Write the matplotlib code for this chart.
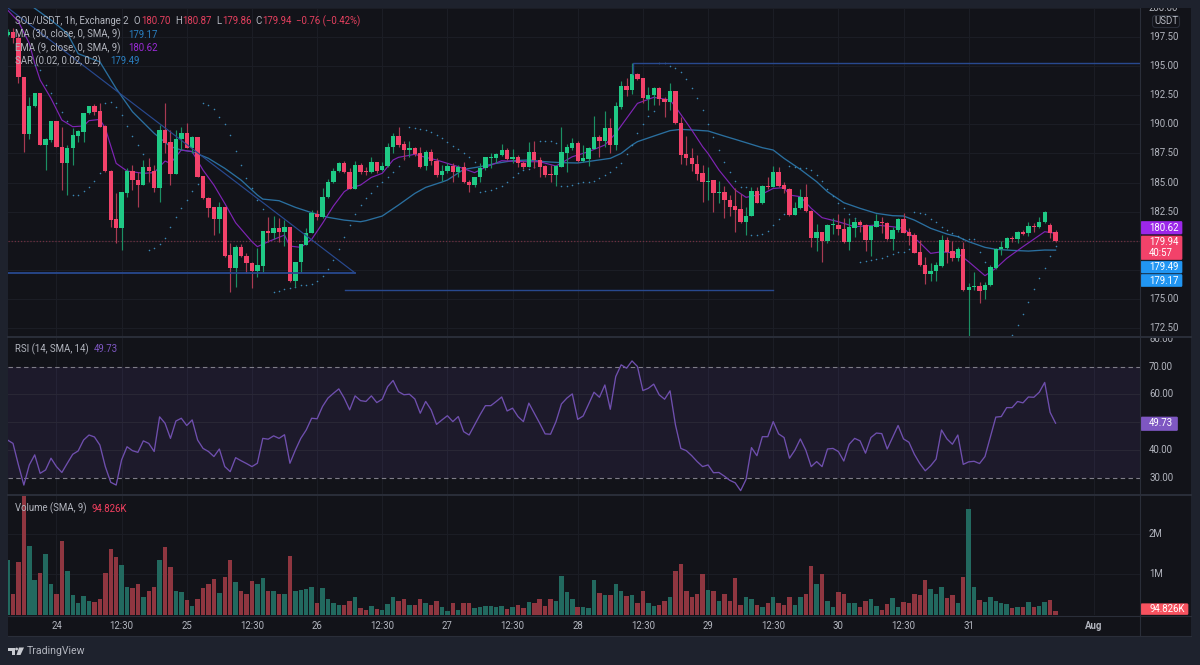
import matplotlib
matplotlib.use("Agg")
import matplotlib.pyplot as plt
import numpy as np
from matplotlib.patches import Rectangle, FancyBboxPatch, Polygon, Circle

plt.rcParams['font.family'] = ['Roboto', 'DejaVu Sans']

opens = [197.71,198.0,197.43,194.12,189.18,191.59,192.74,188.2,188.66,190.27,
188.03,186.71,187.97,189.03,189.38,190.96,191.59,191.13,189.87,185.99,
181.82,181.05,184.12,185.99,185.21,184.81,186.33,185.96,184.55,189.52,
188.46,185.73,188.72,189.24,187.94,188.89,185.56,183.69,182.86,181.82,
182.86,178.72,177.63,179.47,178.69,178.06,177.4,177.8,180.84,180.67,
181.08,180.73,181.16,176.51,178.14,179.64,180.61,182.25,182.05,183.72,
185.04,185.96,186.71,185.93,184.47,186.51,185.99,185.93,186.74,186.05,
186.42,188.03,189.03,188.32,187.8,187.94,187.57,186.42,187.63,186.88,
185.62,185.96,186.45,185.87,186.33,185.07,184.78,185.44,186.25,187.08,
187.08,187.39,187.83,186.99,187.22,186.71,186.33,187.66,186.94,186.39,
185.73,185.67,186.33,187.57,188.0,188.4,186.88,187.05,187.89,188.92,
188.55,189.7,188.2,191.53,193.32,192.97,194.35,194.0,192.22,192.51,
193.14,192.22,191.97,192.86,190.13,187.45,187.11,186.62,185.79,185.04,
185.18,184.09,184.18,183.52,182.97,182.68,181.59,182.11,184.24,183.23,
184.72,184.64,185.87,184.78,184.44,182.2,182.77,183.75,182.57,180.24,
180.7,179.95,181.33,181.36,180.96,179.9,181.1,181.59,181.36,180.07,
181.19,181.62,181.53,180.1,180.87,181.88,180.73,180.44,179.0,177.91,
177.14,177.37,177.8,180.01,179.09,178.52,179.26,175.73,176.02,176.08,
175.73,176.13,177.63,179.24,179.32,180.21,180.16,180.76,180.62,181.25,
181.13,181.56,181.33,180.70]

closes = [198.0,197.43,194.12,189.18,191.59,192.74,188.2,188.72,190.27,188.03,
186.71,188.0,189.09,189.44,191.02,191.56,191.1,189.81,185.99,181.76,
181.05,184.15,186.02,185.21,184.78,186.33,185.96,184.52,189.52,188.43,
185.73,188.72,189.24,187.94,188.89,185.5,183.63,182.83,181.82,182.86,
178.66,177.63,179.47,178.66,178.03,177.4,177.86,180.84,180.67,181.08,
180.7,181.13,176.51,178.14,179.67,180.64,182.34,182.02,183.75,185.07,
186.02,186.71,185.87,184.47,186.51,185.93,185.87,186.74,186.02,186.42,
188.03,189.03,188.23,187.8,187.94,187.45,186.36,187.63,186.85,185.62,
186.02,186.42,185.93,186.33,185.01,184.81,185.44,186.25,187.17,187.17,
187.45,187.83,187.02,187.22,186.65,186.31,187.66,186.94,186.33,185.64,
185.62,186.39,187.6,188.06,188.4,186.88,187.08,187.94,188.92,188.55,
189.7,188.2,191.59,193.32,192.97,194.35,193.95,192.25,192.54,193.14,
192.2,191.97,192.86,190.1,187.37,187.08,186.56,185.73,185.04,185.16,
184.06,184.18,183.49,182.91,182.63,181.59,182.14,184.24,183.23,184.72,
184.64,185.87,184.72,184.44,182.2,182.8,183.75,182.54,180.24,180.7,
179.95,181.36,181.39,180.96,179.87,181.16,181.59,181.31,180.07,181.25,
181.65,181.48,180.1,180.9,181.88,180.67,180.41,178.95,177.86,177.11,
177.4,177.86,180.01,179.03,178.49,179.26,175.73,176.02,176.08,175.67,
176.19,177.68,179.29,179.41,180.21,180.1,180.76,180.59,181.22,181.16,
181.59,182.43,180.62,179.94]

highs = [198.2,198.29,197.86,194.12,192.4,192.74,192.74,188.8,190.27,190.27,
189.81,188.23,189.67,189.52,191.02,191.59,191.77,191.82,189.95,186.07,
184.06,184.21,186.28,186.51,185.93,186.94,187.08,186.51,189.95,191.88,
189.52,189.52,189.81,190.1,189.0,188.95,185.56,183.77,182.91,183.34,
182.86,179.75,179.61,179.7,178.95,178.17,179.32,180.84,182.05,182.11,
181.91,181.76,181.19,178.17,179.67,181.05,182.63,182.63,184.5,185.27,
186.22,186.79,186.82,186.22,186.88,186.65,186.36,187.17,186.79,186.79,
188.37,189.24,189.81,188.6,188.6,188.09,188.09,187.8,187.91,187.08,
186.51,186.65,186.65,186.51,186.79,185.21,185.5,186.65,187.22,187.57,
187.51,188.29,187.94,187.86,187.37,186.88,188.52,188.6,187.22,186.51,
186.51,186.51,189.75,188.32,188.8,188.6,188.23,188.03,190.76,189.09,
191.19,190.53,191.97,193.78,193.98,195.33,194.41,194.0,193.2,193.26,
193.26,192.34,193.55,192.91,190.67,189.0,187.94,187.37,186.51,186.36,
185.21,185.16,184.7,183.92,184.49,184.01,182.91,184.64,184.64,184.78,
185.44,186.42,186.36,185.07,184.49,183.35,184.41,184.87,182.63,181.42,
180.76,181.42,181.97,182.28,181.91,181.91,181.91,181.76,181.42,181.33,
182.28,182.05,181.62,181.19,181.91,182.34,181.05,180.67,180.04,178.6,
178.03,178.17,180.47,180.33,179.98,179.47,179.9,176.31,177.31,176.45,
176.45,177.89,179.32,179.98,180.33,180.39,180.85,180.9,181.62,181.48,
182.05,182.57,181.48,180.87]

lows = [197.6,196.99,193.55,187.66,188.72,191.53,188.2,186.07,188.52,188.03,
184.35,183.92,186.51,188.52,188.52,190.9,190.82,189.75,185.93,181.19,
179.81,179.18,183.77,184.35,182.91,184.78,185.07,184.21,183.34,187.51,
184.78,185.73,187.8,187.94,187.51,185.5,183.55,182.05,180.47,180.67,
178.6,175.53,175.96,178.6,177.22,175.87,176.88,177.31,179.9,180.1,
179.9,179.52,176.45,176.02,177.31,179.61,180.61,181.76,181.91,183.69,
184.98,185.93,185.79,184.41,184.41,185.73,185.64,185.79,185.85,186.02,
186.36,187.51,188.09,186.94,187.22,187.28,186.22,186.08,186.51,185.5,
185.16,185.85,185.07,185.5,184.93,184.21,184.58,185.07,186.08,186.22,
186.65,187.28,186.94,186.65,186.36,186.13,186.31,186.22,185.44,185.5,
185.07,184.72,186.31,185.93,187.8,186.79,186.79,186.42,187.86,187.17,
188.09,187.57,187.8,191.3,192.45,192.63,193.83,191.82,191.25,191.68,
191.68,190.62,191.25,190.04,186.59,186.51,186.02,185.21,183.35,183.49,
182.48,183.2,181.97,182.11,180.76,181.53,180.47,182.11,183.2,183.14,
184.41,184.58,184.64,184.06,182.14,182.17,182.68,182.48,179.47,179.12,
178.17,179.75,180.56,180.47,179.81,179.18,180.27,180.76,179.12,178.66,
181.13,180.62,180.04,179.18,180.76,180.62,179.61,178.89,177.8,176.25,
176.54,176.54,177.74,178.09,178.26,178.23,175.67,171.76,175.73,174.58,
174.93,176.08,177.57,178.75,179.26,179.9,179.75,180.47,180.39,180.76,
181.07,181.48,180.18,179.86]

volume_m = [1.34,0.52,1.29,3.0,1.69,0.85,1.04,1.49,0.77,0.51,
1.81,1.09,0.49,0.30,0.46,0.34,0.31,0.39,1.02,1.63,
1.42,1.22,0.70,0.66,0.77,0.44,0.58,0.68,1.36,1.66,
1.19,0.58,0.56,0.36,0.22,0.40,0.66,0.75,0.89,0.54,
0.93,1.36,0.82,0.58,0.51,0.84,0.77,0.92,0.58,0.58,
0.51,0.52,1.45,0.58,0.61,0.65,0.68,0.29,0.66,0.39,
0.30,0.24,0.25,0.34,0.43,0.17,0.13,0.22,0.14,0.13,
0.28,0.44,0.35,0.39,0.24,0.24,0.40,0.29,0.24,0.35,
0.20,0.10,0.30,0.13,0.30,0.30,0.16,0.20,0.22,0.22,
0.20,0.22,0.14,0.19,0.24,0.17,0.32,0.30,0.39,0.22,
0.39,0.34,0.96,0.57,0.39,0.19,0.20,0.17,0.87,0.53,
0.48,0.48,0.75,0.58,0.46,0.49,0.29,0.60,0.30,0.22,
0.24,0.35,0.43,1.07,1.26,0.58,0.44,0.51,1.01,0.61,
0.58,0.35,0.51,0.35,0.90,0.25,0.44,0.39,0.25,0.20,
0.29,0.43,0.29,0.25,0.44,0.24,0.44,0.52,1.21,0.75,
1.01,0.35,0.20,0.57,0.52,0.30,0.30,0.20,0.35,0.39,
0.22,0.13,0.27,0.41,0.20,0.32,0.30,0.51,0.48,0.87,
0.63,0.52,0.68,0.41,0.49,0.29,0.93,2.61,0.68,0.38,
0.32,0.43,0.35,0.30,0.27,0.17,0.20,0.20,0.32,0.20,
0.22,0.32,0.38,0.095]

rsi_values = [43.7,42.5,34.8,27.6,34.8,38.4,31.8,33.0,37.2,34.2,
32.1,35.4,38.6,39.8,43.7,45.5,44.8,41.9,34.2,28.6,
27.6,36.6,41.3,39.9,39.3,43.4,42.5,39.6,52.0,49.7,
44.3,50.5,51.5,48.9,50.9,43.7,40.7,39.6,37.8,40.5,
34.2,32.4,37.4,36.3,35.3,34.2,35.4,44.3,44.0,45.2,
44.3,45.6,35.4,40.1,44.3,47.3,51.5,51.3,55.7,58.7,
60.4,62.0,58.7,54.5,59.5,57.8,57.5,59.5,57.1,58.3,
62.8,65.0,61.0,59.9,60.1,58.4,53.3,57.5,54.5,49.3,
50.9,52.4,50.3,52.1,46.7,45.5,49.1,52.7,56.0,56.0,
57.5,59.1,54.1,55.1,52.1,50.3,56.9,53.3,49.7,45.9,
45.8,50.3,56.6,58.7,60.2,51.1,52.3,56.5,60.8,59.0,
63.4,54.7,66.4,70.6,69.4,72.0,70.0,61.4,62.2,63.7,
59.9,58.3,61.3,49.1,40.7,39.9,38.1,36.0,34.2,34.8,
32.0,32.1,30.8,29.3,28.4,25.6,29.6,41.0,38.1,44.9,
44.9,50.3,45.9,44.6,37.2,40.1,44.1,40.1,34.2,36.0,
34.2,40.5,40.7,39.6,36.2,42.2,44.3,43.4,39.0,44.6,
46.2,46.0,40.5,44.7,48.9,44.1,42.9,38.6,35.3,32.7,
34.5,36.9,47.3,44.1,42.2,45.5,35.0,35.9,36.1,35.3,
37.8,44.9,51.9,52.1,55.3,55.3,57.5,57.0,59.1,59.0,
60.8,64.3,53.6,49.73]

ma_idx = [0,5,8,11,13,17,20,23,27,30,32,34,37,40,43,46,47,50,53,56,59,62,65,66,69,72,75,77,80,81,84,87,90,93,96,99,
102,105,108,111,113,115,116,119,122,124,127,129,132,134,137,139,141,143,146,149,151,154,157,160,163,165,167,170,173,175,177,180,182,185,188,191,193]
ma_values = [202.0,200.01,199.0,197.86,196.1,195.4,193.1,191.1,189.24,188.09,187.8,187.66,187.08,186.22,185.21,183.92,183.57,183.43,182.86,182.4,182.0,181.76,181.62,181.71,182.11,183.06,184.06,184.58,185.04,185.21,186.13,186.36,186.65,186.88,186.94,186.79,
186.71,186.68,186.88,187.08,187.51,188.23,188.52,189.0,189.47,189.58,189.5,189.44,189.0,188.72,188.29,188.0,187.8,187.08,186.13,185.07,184.2,183.26,182.77,182.34,182.14,182.11,181.76,181.05,180.56,180.33,179.9,179.41,179.24,179.15,179.09,179.18,179.17]

ema_idx = [0,2,4,5,6,8,10,12,14,15,17,18,20,22,25,27,29,30,32,34,36,38,40,42,45,46,48,51,52,54,56,58,60,62,63,
65,67,69,71,72,75,77,79,83,86,88,91,95,98,101,104,107,110,112,116,119,122,123,126,128,129,131,134,136,139,141,143,144,146,148,150,153,156,160,163,165,168,170,172,175,177,180,182,184,187,191,193]
ema_values = [199.87,198.86,196.99,195.27,193.83,192.25,190.38,189.81,189.87,190.33,190.44,189.67,186.65,185.99,185.79,185.85,186.85,186.65,187.8,187.66,186.07,184.78,183.2,181.53,179.9,179.47,179.9,180.47,179.52,179.41,180.1,181.48,182.97,184.21,184.5,
184.78,185.44,185.79,186.94,187.17,187.43,187.17,186.94,186.36,185.85,186.31,186.88,186.79,186.79,186.42,187.22,187.66,188.23,189.24,191.82,192.34,192.11,191.53,189.52,188.09,187.5,186.08,184.35,183.72,184.01,184.49,184.55,183.92,183.78,182.77,181.97,181.62,181.19,181.33,181.19,181.05,179.81,178.89,179.03,178.89,178.17,176.97,177.6,178.46,179.47,180.76,180.62]

sar_idx = list(range(5, 12)) + list(range(12, 48)) + list(range(49, 182)) + list(range(185, 194))
sar_values = [195.13,194.7,193.4,192.74,191.82,191.1,190.33,
183.92,183.92,184.29,184.64,185.16,185.85,
191.88,191.91,191.48,190.82,189.87,189.0,188.2,187.45,
179.18,179.32,179.67,180.24,181.19,182.05,182.77,183.49,184.29,184.87,
191.88,191.68,191.33,190.67,190.04,189.09,187.74,186.51,185.41,184.5,183.49,182.71,
175.53,175.64,175.79,175.9,176.02,176.16,176.19,176.28,176.54,176.94,177.51,178.32,179.26,180.33,181.33,182.28,
183.03,183.63,184.12,184.72,185.07,185.5,185.87,186.45,187.08,
189.81,189.72,189.61,189.52,189.35,189.09,188.8,188.52,188.17,187.89,187.51,187.17,186.79,
184.15,184.24,184.35,184.49,184.72,185.01,185.5,185.79,186.08,186.16,186.31,
188.6,188.6,188.55,188.43,
184.72,184.72,184.78,184.93,185.01,185.07,185.16,185.36,185.64,185.93,186.31,186.71,187.45,188.23,189.24,190.04,190.76,191.19,
195.33,195.27,195.07,194.84,194.55,193.89,193.17,192.31,191.25,190.04,188.95,187.8,186.79,185.87,185.13,184.64,184.64,
180.47,180.47,180.59,180.85,181.33,181.82,182.28,
186.42,186.36,186.28,186.22,186.07,185.64,185.13,184.41,183.83,183.2,182.77,182.28,181.91,
178.17,178.26,178.32,178.37,178.46,178.66,178.83,178.98,179.03,179.26,
182.48,182.4,182.25,181.82,181.56,181.19,180.9,180.62,180.39,180.1,180.1,180.1,179.03,178.17,177.31,
171.85,172.71,173.63,174.72,175.79,176.74,177.66,178.66,179.49]

price_ticks = [172.5,175.0,177.5,180.0,182.5,185.0,187.5,190.0,192.5,195.0,197.5,200.0]
price_tick_labels = ['172.50','175.00','','','182.50','185.00','187.50','190.00','192.50','195.00','197.50','200.00']
rsi_ticks = [30,40,50,60,70,80]
vol_ticks = [1,2]
time_ticks = [9,21,33,45,57,69,81,93,105,117,129,141,153,165,177,200]
time_labels = ['24','12:30','25','12:30','26','12:30','27','12:30','28','12:30','29','12:30','30','12:30','31','Aug']
last_price = 179.94
# drawing-tool levels
tri_top = 200.04
tri_level = 177.2
support_level = 175.73
peak_level = 195.33

O, H, L, C = map(np.array, (opens, highs, lows, closes))
n = len(O)
X = np.arange(n)
up = C >= O

W, Hh = 1200, 665
OUTER = '#1e222d'; PANE = '#121319'; GRID = '#1b1d25'; SEP = '#2a2e39'; TXT = '#b2b5be'
GREEN = '#1fc985'; RED = '#f2426a'; GWICK = '#1b8f63'; RWICK = '#a83a52'
VG = '#22695f'; VR = '#8f3640'
BLUE = '#2a6f9f'; PURPLE = '#7f24b4'; TOOL = '#28498f'; SARC = '#3a86b5'
FONT = 6.9

fig = plt.figure(figsize=(W/100, Hh/100), dpi=100, facecolor=OUTER)

def rect(x0, y0, x1, y1):
    return [x0/W, 1-y1/Hh, (x1-x0)/W, (y1-y0)/Hh]

bg = fig.add_axes([0,0,1,1], zorder=0); bg.set_xlim(0,W); bg.set_ylim(Hh,0); bg.axis('off')
bg.add_patch(Rectangle((8,8),1183,628,fc=PANE,ec='none'))

LEFT, RIGHT = 8, 1140
xlim = (1+(LEFT-13)/5.43, 1+(RIGHT-13)/5.43)

def pane(y0, y1, ylim):
    ax = fig.add_axes(rect(LEFT,y0,RIGHT,y1), zorder=2, facecolor='none')
    ax.set_xlim(*xlim); ax.set_ylim(*ylim); ax.axis('off')
    for t in time_ticks:
        ax.axvline(t, color=GRID, lw=0.8, zorder=0)
    sc = fig.add_axes(rect(RIGHT,y0,1191,y1), zorder=2, facecolor='none')
    sc.set_xlim(0,51); sc.set_ylim(*ylim); sc.axis('off')
    return ax, sc

# price pane
ax, sc = pane(8, 336, (171.77, 200.04))
for t in price_ticks:
    ax.axhline(t, color=GRID, lw=0.8, zorder=0)
ax.axhline(last_price, color='#6e3040', lw=0.9, ls=(0,(1,1.5)), zorder=1)
ax.plot(ma_idx, ma_values, color=BLUE, lw=0.95, zorder=1.5)
ax.plot(ema_idx, ema_values, color=PURPLE, lw=0.85, zorder=1.5)
ax.scatter(sar_idx, sar_values, s=1.3, color=SARC, lw=0, zorder=1.5)
ax.vlines(X, L, H, colors=[GWICK if u else RWICK for u in up], lw=0.85, zorder=2)
ax.bar(X, np.maximum(np.abs(C-O),0.06), bottom=np.minimum(O,C), width=0.8,
       color=[GREEN if u else RED for u in up], lw=0, zorder=3)
ax.plot([0.08,64],[tri_top,tri_level], color=TOOL, lw=0.85, zorder=5)
ax.plot([xlim[0],64],[tri_level,tri_level], color=TOOL, lw=1.3, zorder=5)
ax.plot([62.1,141],[support_level,support_level], color=TOOL, lw=1.0, zorder=5)
ax.plot([115.2,115.2,xlim[1]],[194.35,peak_level,peak_level], color=TOOL, lw=1.0, zorder=5)
for t,l in zip(price_ticks, price_tick_labels):
    if l:
        sc.text(9, t, l, color=TXT, fontsize=FONT, va='center', ha='left', clip_on=True)

# RSI pane
ax2, sc2 = pane(338, 494, (24.4, 80.2))
ax2.axhspan(30, 70, color='#7e57c2', alpha=0.11, lw=0, zorder=0)
for t in [40,50,60]:
    ax2.axhline(t, color='#2a2836', lw=0.7, zorder=1)
for t in [30,70]:
    ax2.axhline(t, color='#7f7d88', lw=0.8, ls=(0,(4,3)), zorder=1)
ax2.plot(X, rsi_values, color='#6f4fae', lw=0.95, zorder=3)
for t in rsi_ticks:
    sc2.text(9, t, f'{t:.2f}', color=TXT, fontsize=FONT, va='center', ha='left', clip_on=True)

# volume pane
ax3, sc3 = pane(496, 615, (0, 119/40.7))
for t in vol_ticks:
    ax3.axhline(t, color=GRID, lw=0.8, zorder=0)
ax3.bar(X, volume_m, width=0.82, color=[VG if u else VR for u in up], lw=0, zorder=2)
for t in vol_ticks:
    sc3.text(9, t, f'{t}M', color=TXT, fontsize=FONT, va='center', ha='left')

# overlay in pixels
fg = fig.add_axes([0,0,1,1], zorder=5, facecolor='none'); fg.set_xlim(0,W); fg.set_ylim(Hh,0); fg.axis('off')
def T(x, y, s, c=TXT, ha='left', fs=FONT, **k):
    fg.text(x, y, s, color=c, fontsize=fs, ha=ha, va='center', **k)
def box(y0, y1, color, x1=1182):
    fg.add_patch(FancyBboxPatch((1141,y0+0.5),x1-1141,y1-y0-1,boxstyle='round,pad=0,rounding_size=1',fc=color,ec=color,lw=0.5))

# separators
for y in (337, 495):
    fg.plot([8,1191],[y,y], color=SEP, lw=1.4)
fg.plot([8,1191],[615.5,615.5], color=SEP, lw=0.8)
fg.plot([1140,1140],[8,636], color=SEP, lw=0.8)
fg.plot([8,1191],[635.5,635.5], color=SEP, lw=0.8)

# legend text
DOWN = '#e6405f'
T(15, 21, 'SOL/USDT, 1h, Exchange 2')
for x,s in [(134,'O'),(175,'H'),(216,'L'),(255,'C')]:
    T(x, 21, s)
for x,s in [(141,'180.70'),(182,'180.87'),(222,'179.86'),(262,'179.94'),(296,'−0.76 (−0.42%)')]:
    T(x, 21, s, DOWN)
T(15, 34.5, 'MA (30, close, 0, SMA, 9)'); T(128, 34.5, '179.17', '#2a7fc0')
T(15, 48, 'EMA (9, close, 0, SMA, 9)'); T(128, 48, '180.62', '#9a2bd6')
T(15, 61.5, 'SAR (0.02, 0.02, 0.2)'); T(110, 61.5, '179.49', '#2a7fc0')
T(15, 349, 'RSI (14, SMA, 14)'); T(94, 349, '49.73', '#7e57c2')
T(15, 508.5, 'Volume (SMA, 9)'); T(91, 508.5, '94.826K', '#f23f5f')

# price labels
fg.add_patch(FancyBboxPatch((1152.5,15.5),27,12,boxstyle='round,pad=0,rounding_size=3',fc=PANE,ec=SEP,lw=0.8))
T(1166, 21, 'USDT', ha='center')
box(221, 234.5, '#9c27ea'); T(1149, 228, '180.62', 'white')
box(235.5, 260, '#f2426a'); T(1149, 242, '179.94', 'white'); T(1149, 253.5, '40:57', 'white')
box(260.7, 273.5, '#2196f3'); T(1149, 267.2, '179.49', 'white')
box(274, 287, '#2196f3'); T(1149, 280.5, '179.17', 'white')
box(416.5, 431, '#7e57c2', x1=1177.5); T(1149, 423.5, '49.73', 'white')
box(603.3, 615, '#f7525f', x1=1188); T(1149, 609.5, '94.826K', 'white')

# time labels
for t,l in zip(time_ticks, time_labels):
    px = 13 + (t-1)*5.43
    T(px, 626, l, ha='center', fontweight='bold' if l=='Aug' else 'normal')

# TradingView mark
fg.add_patch(Polygon([(8,647.5),(15,647.5),(15,655),(12,655),(12,650.5),(8,650.5)],fc='#c8cad0',ec='none'))
fg.add_patch(Circle((16.6,649),1.4,fc='#c8cad0',ec='none'))
fg.add_patch(Polygon([(19,647.5),(24,647.5),(20.5,655),(16.5,655)],fc='#c8cad0',ec='none'))
T(27, 651.5, 'TradingView', '#b2b5be', fs=7.6)

fig.savefig('out.png', dpi=100, facecolor=OUTER)
